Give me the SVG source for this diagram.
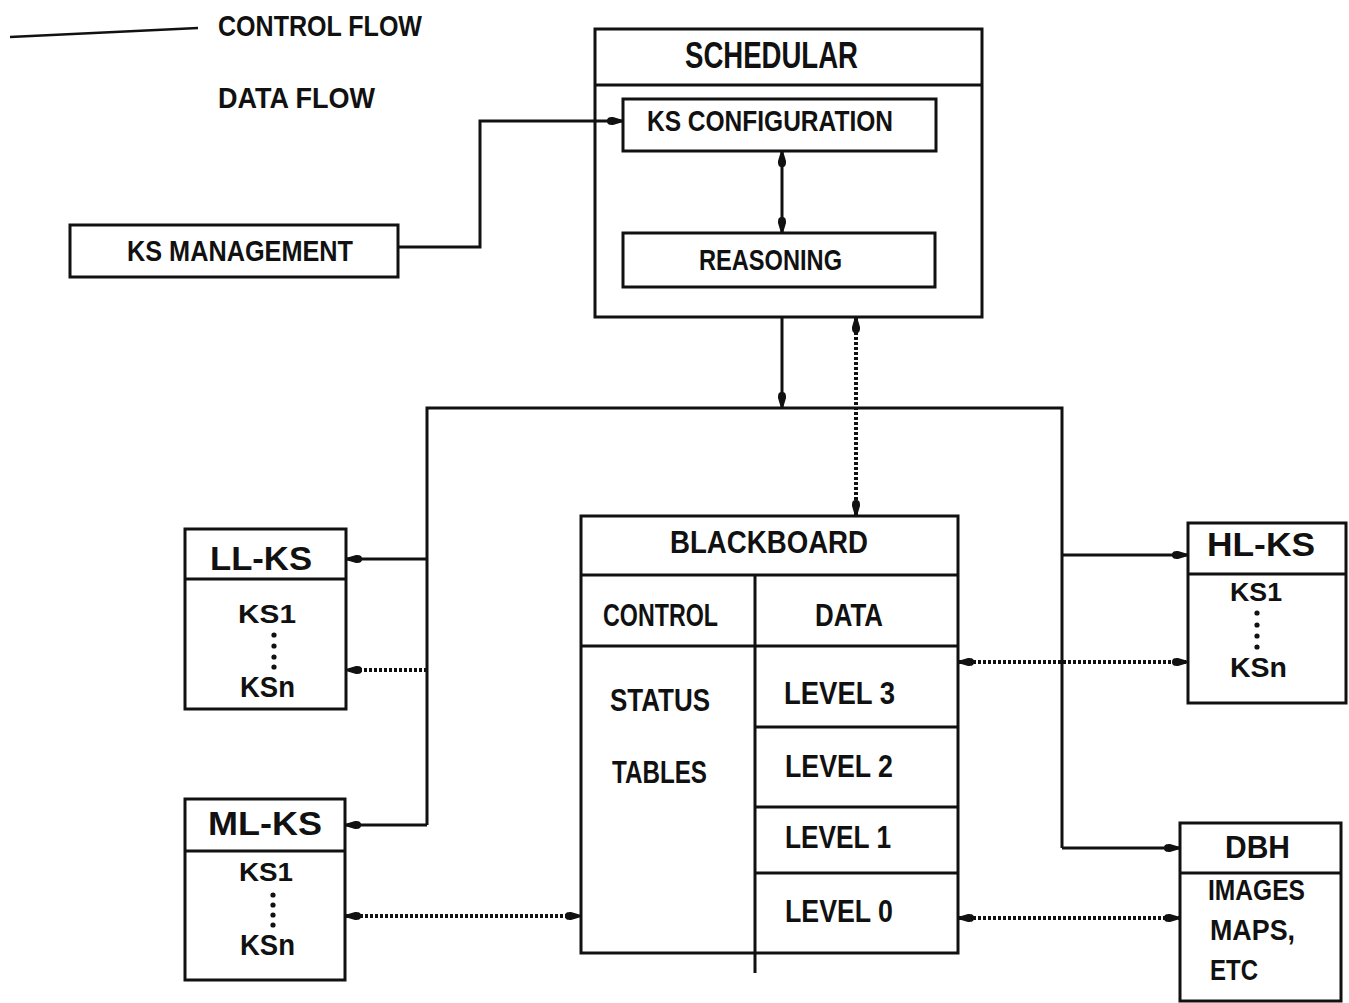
<svg xmlns="http://www.w3.org/2000/svg" width="1349" height="1003" viewBox="0 0 1349 1003">
<style>
.box{fill:none;stroke:#111;stroke-width:3}
.ln{fill:none;stroke:#111;stroke-width:3}
.dot{fill:none;stroke:#111;stroke-width:4;stroke-dasharray:3 2}
.t{font-family:"Liberation Sans",Arial,sans-serif;font-weight:bold;font-size:30px;fill:#111}
.lg{font-family:"Liberation Sans",Arial,sans-serif;font-weight:bold;font-size:30px;fill:#111}
</style>
<defs>
<marker id="ah" viewBox="0 0 18 10" refX="18" refY="5" markerWidth="18" markerHeight="10" markerUnits="userSpaceOnUse" orient="auto-start-reverse">
<path d="M2,5 C2,1.5 4,1 8,1 L18,4 L18,6 L8,9 C4,9 2,8.5 2,5 Z" fill="#111"/>
</marker>
</defs>
<rect width="1349" height="1003" fill="#fff"/>

<g id="legend">
<line x1="10" y1="37" x2="198" y2="28" stroke="#111" stroke-width="2.5"/>
<text class="lg" x="218" y="36" textLength="204" lengthAdjust="spacingAndGlyphs">CONTROL FLOW</text>
<text class="lg" x="218" y="108" textLength="157" lengthAdjust="spacingAndGlyphs">DATA FLOW</text>
</g>

<g id="schedular">
<rect class="box" x="595" y="29" width="387" height="288"/>
<line class="ln" x1="595" y1="85" x2="982" y2="85"/>
<text class="t" x="685" y="68" textLength="173" lengthAdjust="spacingAndGlyphs" style="font-size:36px">SCHEDULAR</text>
</g>
<g id="ks-configuration">
<rect class="box" x="623" y="99" width="313" height="52"/>
<text class="t" x="647" y="131" textLength="246" lengthAdjust="spacingAndGlyphs">KS CONFIGURATION</text>
</g>
<g id="reasoning">
<rect class="box" x="623" y="233" width="312" height="54"/>
<text class="t" x="699" y="270" textLength="143" lengthAdjust="spacingAndGlyphs">REASONING</text>
</g>
<g id="ks-management">
<rect class="box" x="70" y="225" width="328" height="52"/>
<text class="t" x="127" y="261" textLength="226" lengthAdjust="spacingAndGlyphs">KS MANAGEMENT</text>
</g>

<g id="blackboard">
<rect class="box" x="581" y="516" width="377" height="437"/>
<line class="ln" x1="581" y1="575" x2="958" y2="575"/>
<line class="ln" x1="581" y1="646" x2="958" y2="646"/>
<line class="ln" x1="755" y1="575" x2="755" y2="973"/>
<line class="ln" x1="755" y1="727" x2="958" y2="727"/>
<line class="ln" x1="755" y1="807" x2="958" y2="807"/>
<line class="ln" x1="755" y1="873" x2="958" y2="873"/>
<text class="t" x="670" y="553" textLength="198" lengthAdjust="spacingAndGlyphs" style="font-size:32px">BLACKBOARD</text>
<text class="t" x="603" y="626" textLength="115" lengthAdjust="spacingAndGlyphs" style="font-size:32px">CONTROL</text>
<text class="t" x="815" y="626" textLength="68" lengthAdjust="spacingAndGlyphs" style="font-size:32px">DATA</text>
<text class="t" x="610" y="711" textLength="100" lengthAdjust="spacingAndGlyphs" style="font-size:32px">STATUS</text>
<text class="t" x="612" y="783" textLength="95" lengthAdjust="spacingAndGlyphs" style="font-size:32px">TABLES</text>
<text class="t" x="784" y="704" textLength="111" lengthAdjust="spacingAndGlyphs" style="font-size:31px">LEVEL 3</text>
<text class="t" x="785" y="777" textLength="108" lengthAdjust="spacingAndGlyphs" style="font-size:31px">LEVEL 2</text>
<text class="t" x="785" y="848" textLength="106" lengthAdjust="spacingAndGlyphs" style="font-size:31px">LEVEL 1</text>
<text class="t" x="785" y="922" textLength="108" lengthAdjust="spacingAndGlyphs" style="font-size:31px">LEVEL 0</text>
</g>

<g id="ll-ks">
<rect class="box" x="185" y="529" width="161" height="180"/>
<line class="ln" x1="185" y1="579" x2="346" y2="579"/>
<text class="t" x="210" y="570" textLength="102" lengthAdjust="spacingAndGlyphs" style="font-size:34px">LL-KS</text>
<text class="t" x="238" y="623" textLength="58" lengthAdjust="spacingAndGlyphs" style="font-size:26px">KS1</text>
<g fill="#111"><circle cx="274" cy="635" r="2.6"/><circle cx="274" cy="646" r="2.6"/><circle cx="274" cy="657" r="2.6"/><circle cx="274" cy="667" r="2.6"/></g>
<text class="t" x="240" y="697" textLength="55" lengthAdjust="spacingAndGlyphs" style="font-size:29px">KSn</text>
</g>

<g id="ml-ks">
<rect class="box" x="185" y="799" width="160" height="181"/>
<line class="ln" x1="185" y1="851" x2="345" y2="851"/>
<text class="t" x="208" y="835" textLength="114" lengthAdjust="spacingAndGlyphs" style="font-size:33px">ML-KS</text>
<text class="t" x="239" y="881" textLength="54" lengthAdjust="spacingAndGlyphs" style="font-size:26px">KS1</text>
<g fill="#111"><circle cx="273" cy="895" r="2.6"/><circle cx="273" cy="905" r="2.6"/><circle cx="273" cy="915" r="2.6"/><circle cx="273" cy="925" r="2.6"/></g>
<text class="t" x="240" y="955" textLength="55" lengthAdjust="spacingAndGlyphs" style="font-size:29px">KSn</text>
</g>

<g id="hl-ks">
<rect class="box" x="1188" y="523" width="158" height="180"/>
<line class="ln" x1="1188" y1="574" x2="1346" y2="574"/>
<text class="t" x="1207" y="556" textLength="108" lengthAdjust="spacingAndGlyphs" style="font-size:33px">HL-KS</text>
<text class="t" x="1230" y="601" textLength="52" lengthAdjust="spacingAndGlyphs" style="font-size:26px">KS1</text>
<g fill="#111"><circle cx="1257" cy="613" r="2.6"/><circle cx="1257" cy="625" r="2.6"/><circle cx="1257" cy="636" r="2.6"/><circle cx="1257" cy="647" r="2.6"/></g>
<text class="t" x="1230" y="677" textLength="57" lengthAdjust="spacingAndGlyphs" style="font-size:27px">KSn</text>
</g>

<g id="dbh">
<rect class="box" x="1180" y="823" width="161" height="178"/>
<line class="ln" x1="1180" y1="873" x2="1341" y2="873"/>
<text class="t" x="1225" y="858" textLength="65" lengthAdjust="spacingAndGlyphs" style="font-size:31px">DBH</text>
<text class="t" x="1208" y="900" textLength="97" lengthAdjust="spacingAndGlyphs" style="font-size:29px">IMAGES</text>
<text class="t" x="1210" y="940" textLength="85" lengthAdjust="spacingAndGlyphs" style="font-size:29px">MAPS,</text>
<text class="t" x="1210" y="980" textLength="48" lengthAdjust="spacingAndGlyphs" style="font-size:29px">ETC</text>
</g>

<g id="connectors">
<!-- control flow -->
<path class="ln" d="M398,247 H480 V121 H623" marker-end="url(#ah)"/>
<line class="ln" x1="782" y1="151" x2="782" y2="233" marker-start="url(#ah)" marker-end="url(#ah)"/>
<line class="ln" x1="782" y1="317" x2="782" y2="408" marker-end="url(#ah)"/>
<path class="ln" d="M427,825 V408 H1062 V848"/>
<line class="ln" x1="427" y1="559" x2="346" y2="559" marker-end="url(#ah)"/>
<line class="ln" x1="427" y1="825" x2="345" y2="825" marker-end="url(#ah)"/>
<line class="ln" x1="1062" y1="555" x2="1188" y2="555" marker-end="url(#ah)"/>
<line class="ln" x1="1062" y1="848" x2="1180" y2="848" marker-end="url(#ah)"/>
<!-- data flow -->
<line class="dot" x1="856" y1="317" x2="856" y2="516" marker-start="url(#ah)" marker-end="url(#ah)"/>
<line class="dot" x1="427" y1="670" x2="346" y2="670" marker-end="url(#ah)"/>
<line class="dot" x1="345" y1="916" x2="581" y2="916" marker-start="url(#ah)" marker-end="url(#ah)"/>
<line class="dot" x1="958" y1="662" x2="1188" y2="662" marker-start="url(#ah)" marker-end="url(#ah)"/>
<line class="dot" x1="958" y1="918" x2="1180" y2="918" marker-start="url(#ah)" marker-end="url(#ah)"/>
</g>
</svg>
